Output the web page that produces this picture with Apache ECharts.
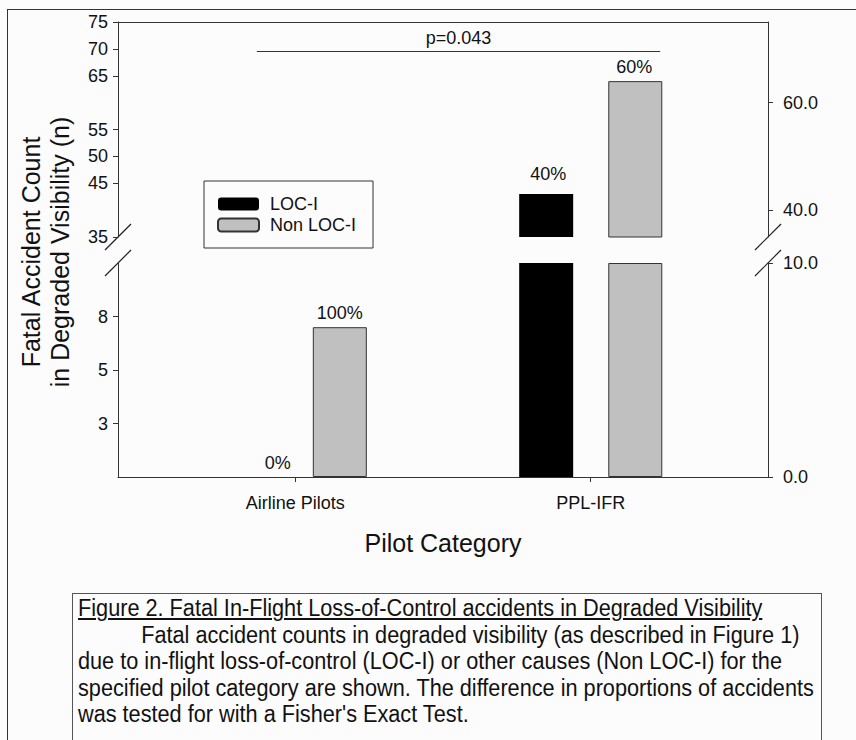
<!DOCTYPE html>
<html><head><meta charset="utf-8">
<script src="https://cdn.jsdelivr.net/npm/echarts@6/dist/echarts.min.js"></script>
<style>
html,body{margin:0;padding:0;background:#fcfcfc;}
#wrap{position:relative;width:856px;height:740px;overflow:hidden;background:#fcfcfc;}
#chart{position:absolute;left:0;top:0;width:856px;height:740px;}
#frame{position:absolute;left:7px;top:9px;width:900px;height:800px;border-left:1.5px solid #333;border-top:1.5px solid #333;pointer-events:none;}
#caption{position:absolute;left:72px;top:593px;width:750px;height:170px;border:1px solid #555;box-sizing:border-box;padding:1px 0 0 5px;overflow:hidden;}
#capText{font-family:'Liberation Sans Narrow','Arial Narrow','Liberation Sans',sans-serif;font-size:23px;line-height:26.5px;color:#111;
 white-space:nowrap;transform:scaleX(0.943);transform-origin:0 0;}
#capText .ind{display:inline-block;width:67px;}
</style></head>
<body>
<div id="wrap">
<div id="chart"></div>
<div id="frame"></div>
<div id="caption"><div id="capText"><u>Figure 2. Fatal In-Flight Loss-of-Control accidents in Degraded Visibility</u><br><span class="ind"></span>Fatal accident counts in degraded visibility (as described in Figure 1)<br>due to in-flight loss-of-control (LOC-I) or other causes (Non LOC-I) for the<br>specified pilot category are shown. The difference in proportions of accidents<br>was tested for with a Fisher's Exact Test.</div></div>
</div>
<script>
// ---- data ----
const categories = ['Airline Pilots', 'PPL-IFR'];
const categoryPos = [1, 2];
const locValues = [0, 43];
const nonLocValues = [7, 64];
const locPctLabels = ['0%', '40%'];
const nonLocPctLabels = ['100%', '60%'];
const lowerRange = [0, 10];
const upperRange = [35, 75];
const xRange = [0.4, 2.6];
const leftLowerTicks = [2.5, 5, 7.5];
const rightLowerTicks = [0, 10];
const leftUpperTicks = [35, 45, 50, 55, 65, 70, 75];
const rightUpperTicks = [40, 60];
const pValueText = 'p=0.043';
const pBracketY = 69.6;
const pBracketX = [0.87, 2.235];
// ---- styles ----
const locLabelDistance = [5, 11];
const nonLocLabelDistance = [5, 5];
const locLabelOffset = [[27, 0], [2, 0]];
const nonLocLabelOffset = [[0, 0], [-1, 0]];
const FONT = "'Liberation Sans', Arial, sans-serif";
const AX = '#333';
const FS = 18;

function lowerData(vals, labels, dist, off) {
  return categoryPos.map((x, i) => {
    const v = vals[i];
    return {
      value: [x, Math.min(v, lowerRange[1])],
      label: { show: v <= lowerRange[1], formatter: labels[i], distance: dist[i], offset: off[i] }
    };
  });
}
function upperData(vals, labels, dist, off) {
  return categoryPos.map((x, i) => {
    const v = vals[i];
    return {
      value: [x, v > upperRange[0] ? v : '-'],
      label: { show: v > lowerRange[1], formatter: labels[i], distance: dist[i], offset: off[i] }
    };
  });
}

const labelStyle = { show: true, position: 'top', color: '#111', fontSize: FS, fontFamily: FONT };
const locStyle = { color: '#000', borderWidth: 0 };
const nonStyle = { color: '#c0c0c0', borderColor: '#333', borderWidth: 1 };

function yAx(grid, pos, range, ticks, fmt, margin) {
  return {
    type: 'value', gridIndex: grid, position: pos, min: range[0], max: range[1],
    axisLine: { show: true, lineStyle: { color: AX, width: 1 } },
    axisTick: { show: true, length: 5, inside: false, customValues: ticks, lineStyle: { color: AX } },
    axisLabel: { show: true, customValues: ticks, formatter: fmt, margin: margin, color: '#111', fontSize: FS, fontFamily: FONT },
    splitLine: { show: false }
  };
}

const chart = echarts.init(document.getElementById('chart'), null, { renderer: 'svg' });
const option = {
  backgroundColor: 'transparent',
  animation: false,
  textStyle: { fontFamily: FONT },
  grid: [
    { left: 118, width: 650, top: 263, height: 214 },
    { left: 118, width: 650, top: 22, height: 215 }
  ],
  legend: {
    orient: 'vertical', left: 204, top: 181,
    padding: [14, 17, 14, 13], itemGap: 3, itemWidth: 41, itemHeight: 13,
    borderColor: '#333', borderWidth: 1, backgroundColor: '#fcfcfc',
    textStyle: { fontSize: FS, color: '#111', fontFamily: FONT, lineHeight: 17, padding: [0, 0, 0, 6] },
    data: ['LOC-I', 'Non LOC-I']
  },
  xAxis: [
    {
      type: 'value', gridIndex: 0, position: 'bottom', min: xRange[0], max: xRange[1],
      axisLine: { show: true, onZero: false, lineStyle: { color: AX, width: 1 } },
      axisTick: { show: true, length: 5, customValues: categoryPos, lineStyle: { color: AX } },
      axisLabel: { show: true, customValues: categoryPos, formatter: v => categories[categoryPos.indexOf(Math.round(v))] || '',
        margin: 17, color: '#111', fontSize: FS, fontFamily: FONT },
      splitLine: { show: false },
      name: 'Pilot Category', nameLocation: 'middle', nameGap: 53,
      nameTextStyle: { fontSize: 25, color: '#111', fontFamily: FONT }
    },
    {
      type: 'value', gridIndex: 1, position: 'top', min: xRange[0], max: xRange[1],
      axisLine: { show: true, onZero: false, lineStyle: { color: AX, width: 1 } },
      axisTick: { show: false }, axisLabel: { show: false }, splitLine: { show: false }
    }
  ],
  yAxis: [
    yAx(0, 'left', lowerRange, leftLowerTicks, v => String(Math.round(v)), 10),
    yAx(0, 'right', lowerRange, rightLowerTicks, v => v.toFixed(1), 15),
    yAx(1, 'left', upperRange, leftUpperTicks, v => String(Math.round(v)), 10),
    yAx(1, 'right', upperRange, rightUpperTicks, v => v.toFixed(1), 15)
  ],
  series: [
    { name: 'LOC-I', type: 'bar', xAxisIndex: 0, yAxisIndex: 0, barWidth: 54, barGap: '65%',
      itemStyle: locStyle, label: labelStyle, data: lowerData(locValues, locPctLabels, locLabelDistance, locLabelOffset) },
    { name: 'Non LOC-I', type: 'bar', xAxisIndex: 0, yAxisIndex: 0, barWidth: 54, barGap: '65%',
      itemStyle: nonStyle, label: labelStyle, data: lowerData(nonLocValues, nonLocPctLabels, nonLocLabelDistance, nonLocLabelOffset) },
    { name: 'LOC-I', type: 'bar', xAxisIndex: 1, yAxisIndex: 2, barWidth: 54, barGap: '65%',
      itemStyle: locStyle, label: labelStyle, data: upperData(locValues, locPctLabels, locLabelDistance, locLabelOffset) },
    { name: 'Non LOC-I', type: 'bar', xAxisIndex: 1, yAxisIndex: 2, barWidth: 54, barGap: '65%',
      itemStyle: nonStyle, label: labelStyle, data: upperData(nonLocValues, nonLocPctLabels, nonLocLabelDistance, nonLocLabelOffset) },
    { name: 'p', type: 'line', xAxisIndex: 1, yAxisIndex: 2, data: [], silent: true,
      markLine: {
        silent: true, symbol: 'none', animation: false,
        lineStyle: { color: AX, width: 1, type: 'solid' },
        label: { show: true, position: 'middle', formatter: pValueText, color: '#111', fontSize: FS, fontFamily: FONT, distance: 4 },
        data: [[{ coord: [pBracketX[0], pBracketY] }, { coord: [pBracketX[1], pBracketY] }]]
      } }
  ]
};
chart.setOption(option);

// axis-break marks and y title, placed via the chart's own scales
const gfx = [];
function breakMark(p) {
  return { type: 'line', shape: { x1: p[0] - 13, y1: p[1] + 13, x2: p[0] + 13, y2: p[1] - 13 },
    style: { stroke: '#222', lineWidth: 1.2 }, silent: true };
}
[xRange[0], xRange[1]].forEach(x => {
  gfx.push(breakMark(chart.convertToPixel({ xAxisIndex: 1, yAxisIndex: 2 }, [x, upperRange[0]])));
  gfx.push(breakMark(chart.convertToPixel({ xAxisIndex: 0, yAxisIndex: 0 }, [x, lowerRange[1]])));
});
gfx.push({
  type: 'text', x: 45, y: 252, rotation: Math.PI / 2, silent: true,
  style: { text: 'Fatal Accident Count\nin Degraded Visibility (n)', fontSize: 25, lineHeight: 29,
    fontFamily: FONT, fill: '#111', align: 'center', verticalAlign: 'middle' }
});
chart.setOption({ graphic: gfx });
</script>
</body></html>
